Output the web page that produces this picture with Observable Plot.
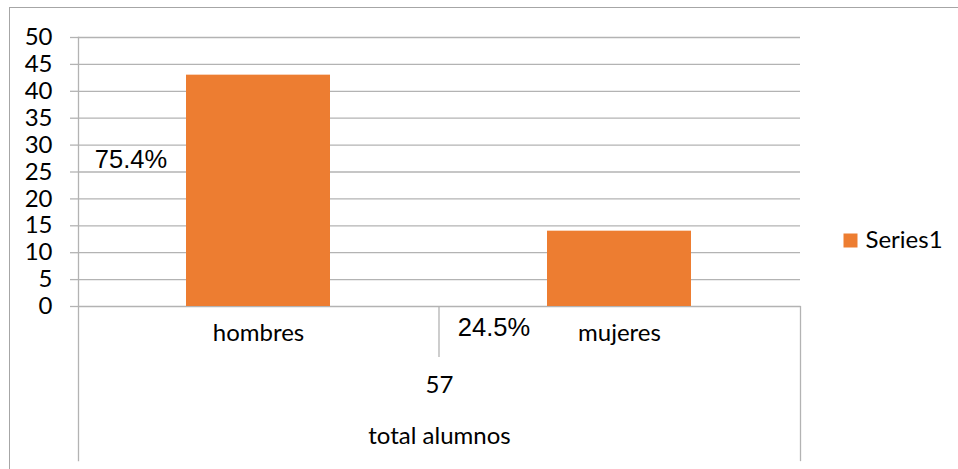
<!DOCTYPE html>
<html>
<head>
<meta charset="utf-8">
<script src="https://cdn.jsdelivr.net/npm/d3@7"></script>
<script src="https://cdn.jsdelivr.net/npm/@observablehq/plot@0.6"></script>
<style>
  html, body { margin: 0; padding: 0; background: #fff; }
  #wrap { position: relative; width: 958px; height: 469px; overflow: hidden; }
  #border { position: absolute; left: 9px; top: 7px; width: 2000px; height: 2000px;
            border-left: 1.5px solid #a6a6a6; border-top: 1.5px solid #a6a6a6; box-sizing: border-box; }
  #chart { position: absolute; left: 0; top: 0; }
</style>
</head>
<body>
<div id="wrap"><div id="border"></div><div id="chart"></div></div>
<script>
const categories = ["hombres", "mujeres"];
const values = [43, 14];
const pctLabels = ["75.4%", "24.5%"];
const groupLabel = "total alumnos";
const seriesName = "Series1";
const yTicks = [0, 5, 10, 15, 20, 25, 30, 35, 40, 45, 50];

const data = categories.map((c, i) => ({category: c, value: values[i], pct: pctLabels[i]}));
const total = d3.sum(values);

const grid = "#b3b3b3";
const orange = "#ED7D31";
const font = "Lato, 'Open Sans', sans-serif";
const fs = 24;

const chart = Plot.plot({
  width: 958,
  height: 469,
  marginLeft: 78,
  marginRight: 158,
  marginTop: 37,
  marginBottom: 163,
  style: {fontFamily: font, fontSize: fs + "px", color: "#000", background: "transparent", overflow: "visible"},
  x: {domain: categories, paddingInner: 0.6, paddingOuter: 0.3, axis: null},
  y: {domain: [0, 50], axis: null},
  marks: [
    Plot.gridY(yTicks, {stroke: grid, strokeOpacity: 1, strokeWidth: 1.3}),
    Plot.axisY(yTicks, {label: null, tickSize: 8, tickPadding: 18, stroke: grid, strokeOpacity: 1, strokeWidth: 1.3, fontSize: fs, tickFormat: d => d}),
    Plot.frame({anchor: "left", stroke: grid, strokeOpacity: 1, strokeWidth: 1.3, insetBottom: -154}),
    Plot.frame({anchor: "right", stroke: grid, strokeOpacity: 1, strokeWidth: 1.3, insetTop: 269, insetBottom: -154}),
    Plot.ruleX(data.slice(1), {x: "category", dx: -180.5, stroke: grid, strokeOpacity: 1, strokeWidth: 1.3, insetTop: 269, insetBottom: -51}),
    Plot.barY(data, {x: "category", y: "value", fill: orange}),
    Plot.text(data, {x: "category", text: "category", frameAnchor: "bottom", dy: 34, fontSize: fs}),
    Plot.text([total], {text: d => d, frameAnchor: "bottom", dy: 86, fontSize: fs}),
    Plot.text([groupLabel], {text: d => d, frameAnchor: "bottom", dy: 137, fontSize: fs}),
    Plot.text(data.slice(0, 1), {x: "category", y: "value", text: "pct", dx: -127.5, dy: 85, fontSize: 25.5, fontFamily: "'Liberation Sans', Arial, sans-serif"}),
    Plot.text(data.slice(1, 2), {x: "category", y: "value", text: "pct", dx: -125.5, dy: 97, fontSize: 25.5, fontFamily: "'Liberation Sans', Arial, sans-serif"}),
    Plot.dot([seriesName], {frameAnchor: "right", dx: 50, dy: 68.5, symbol: "square", r: 7.9, fill: orange, stroke: "none"}),
    Plot.text([seriesName], {text: d => d, frameAnchor: "right", dx: 65, dy: 68.5, textAnchor: "start", fontSize: fs})
  ]
});
document.getElementById("chart").appendChild(chart);
</script>
</body>
</html>
